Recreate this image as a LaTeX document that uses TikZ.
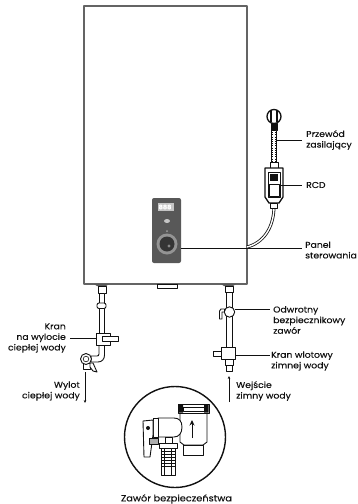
\documentclass[tikz,border=0pt]{standalone}
\usepackage{fontspec}
\setmainfont{Poppins}[FakeBold=0.25,FakeStretch=1.09]
\usetikzlibrary{arrows.meta}
\definecolor{ink}{HTML}{111111}
\tikzset{
  lab/.style={font=\fontsize{8.5}{10.6}\selectfont,text=ink,inner sep=0pt},
  labl/.style={lab,anchor=west,align=left},
  labr/.style={lab,anchor=east,align=right},
  lead/.style={draw=ink,line width=0.8pt},
  part/.style={draw=ink,line width=0.9pt,fill=white},
  thin part/.style={draw=ink,line width=0.6pt,fill=white},
  flow/.style={draw=ink,line width=0.6pt,-{Stealth[length=3pt,width=2.6pt]}}
}
\begin{document}
\begin{tikzpicture}[x=1pt,y=-1pt,line join=round]
\useasboundingbox (0,0) rectangle (358,504);
% water heater
\draw[draw=ink!65,line width=1.2pt] (84,6) rectangle (247,284);
\draw[thin part] (157,284) rectangle (177,288);
\fill[ink!70] (94,284) -- (109,284) -- (106,286) -- (97,286) -- cycle;
\fill[ink!70] (221,284) -- (236,284) -- (233,286) -- (224,286) -- cycle;
% control panel
\fill[ink!70,rounded corners=2pt] (152,198) rectangle (181,263);
\fill[ink!25] (158,203) rectangle (174,211);
\node[font=\fontsize{6}{6}\selectfont\bfseries,text=white,inner sep=0pt] (disp) at (165,207) {888};
\fill[ink!25] (167,221) ellipse (3 and 2);
\fill[ink!40] (167,231) circle (1);
\fill[ink!45] (167,244) circle (10.5);
\fill[ink!85] (167,244) circle (7.5);
\fill[ink!50] (169,246) circle (1.6);
% cable
\draw[ink,line width=3pt] (274,206) .. controls (274,228) and (263,243) .. (247,247);
\draw[white,line width=1.4pt] (274,206) .. controls (274,228) and (263,243) .. (247,247);
% plug
\draw[part,line width=1.3pt] (274,116.5) circle (7);
\draw[ink,line width=1.2pt] (271,110) -- (271,122) (277,110) -- (277,122);
\draw[part,fill=ink] (271,123) rectangle (277,130);
\draw[thin part] (271.5,130) rectangle (276.5,162);
\draw[ink,line width=0.9pt,dash pattern=on 1pt off 1.2pt] (272.3,130) -- (272.3,162) (275.7,130) -- (275.7,162);
\draw[part] (270,162) rectangle (278,168);
% RCD
\draw[part,line width=1.3pt] (265,168) -- (283,168) -- (283,197) -- (279,203) -- (269,203) -- (265,197) -- cycle;
\draw[thin part] (268,172) rectangle (280,197);
\fill[ink] (270,174) rectangle (278,181);
\draw[thin part] (269,184) rectangle (279,196);
\draw[part] (270.5,203) rectangle (277.5,208);
% left pipe
\draw[part] (98,286) rectangle (106,293);
\draw[part] (99,293) rectangle (104.5,333);
\draw[part,rounded corners=2pt] (97,303) rectangle (106,308.5);
\draw[part] (99,345) -- (99,354) .. controls (99,355.5) and (98,356) .. (97,356) -- (91,356) -- (91,362) -- (98,362) .. controls (102,362) and (104.5,359) .. (104.5,355) -- (104.5,345) -- cycle;
\draw[part] (96,333) rectangle (110,345);
\draw[part] (102,336) rectangle (118,341.5);
\draw[part] (83,363) rectangle (90,369);
\draw[part] (90,363) -- (93,363) -- (97,372) -- (93,371) -- (90,367) -- cycle;
\draw[part] (86,359) circle (5.5);
\draw[thin part] (86,359) circle (2.8);
% right pipe
\draw[part] (225,286) rectangle (233,292);
\draw[part] (226,292) rectangle (232,347);
\draw[part] (229.5,312) circle (5.2);
\draw[part] (221,309) -- (224.5,309) -- (224.5,312) -- (222,312) -- (222,319) -- (219.5,319) -- (219.5,311) -- cycle;
\draw[part] (213,351) rectangle (222,356);
\draw[part] (225,359) rectangle (233,365);
\draw[part] (226,365) rectangle (232,371);
\draw[part] (221,347) rectangle (235,359);
% inset
\draw[draw=ink,line width=1.4pt,fill=white] (175,437) circle (50.5);
\draw[part] (180,413) -- (207,413) -- (207,442) -- (203,445) -- (184,445) -- (180,442) -- cycle;
\draw[part] (178,404.5) rectangle (209,413);
\draw[thin part] (183,407) rectangle (204,411);
\fill[ink] (178.5,405) rectangle (183,412.5) (204,405) rectangle (208.5,412.5);
\draw[part] (183,445) rectangle (203,455);
\draw[part] (158,418) -- (174,418) .. controls (179,418) and (182,421) .. (182,427) .. controls (182,433) and (179,437) .. (174,437) -- (158,437) -- cycle;
\draw[part] (153,418) rectangle (158,437);
\draw[part] (165,437) rectangle (172,443);
\draw[part] (159,443) rectangle (177,448);
\draw[part] (161,448) rectangle (175,475);
\draw[thin part] (164.5,448) rectangle (171.5,475);
\foreach \yy in {451,454,...,466} \draw[ink,line width=0.6pt] (161,\yy) -- (175,\yy);
\draw[part] (143,421) -- (153,420) -- (153,435) -- (150,457) -- (144,457) -- cycle;
\fill[ink] (148,428) circle (2);
\draw[part,fill=ink!35] (149,438) rectangle (158,444);
\draw[ink,line width=1pt,-{Stealth[length=5.5pt,width=5pt]}] (192,438) -- (192,420);
% labels
\node[labl] (przewod) at (306,140) {Przewód\\zasilający};
\node[labl] (rcd) at (306,185) {RCD};
\node[labl] (panel) at (305,250) {Panel\\sterowania};
\node[labr] (kran) at (66,338) {Kran\\na wylocie\\ciepłej wody};
\node[labr] (wylot) at (80,391) {Wylot\\ciepłej wody};
\node[labl] (odwrotny) at (273,320) {Odwrotny\\bezpiecznikowy\\zawór};
\node[labl] (wlotowy) at (271,361) {Kran wlotowy\\zimnej wody};
\node[labl] (wejscie) at (236,391) {Wejście\\zimny wody};
\node[lab,font=\fontsize{9}{10.6}\selectfont] (zawor) at (176.5,499) {Zawór bezpieczeństwa};
% leaders
\coordinate (pc) at (276,140); \coordinate (pe) at (302,140);
\coordinate (rc) at (279,185); \coordinate (re) at (302,185);
\coordinate (sc) at (181,248); \coordinate (se) at (302,248);
\coordinate (kc) at (97,338); \coordinate (ke) at (70,338);
\coordinate (oc) at (235,309); \coordinate (oe) at (270,309);
\coordinate (wc) at (235,355); \coordinate (we) at (270,355);
\draw[lead] (pc) -- (pe);
\draw[lead] (rc) -- (re);
\draw[lead] (sc) -- (se);
\draw[lead] (ke) -- (kc);
\draw[lead] (oc) -- (oe);
\draw[lead] (wc) -- (we);
% flow arrows
\coordinate (fa) at (85,372); \coordinate (fb) at (85,403);
\coordinate (fc) at (229,402); \coordinate (fd) at (229,376);
\draw[flow] (fa) -- (fb);
\draw[flow] (fc) -- (fd);
\end{tikzpicture}
\end{document}
